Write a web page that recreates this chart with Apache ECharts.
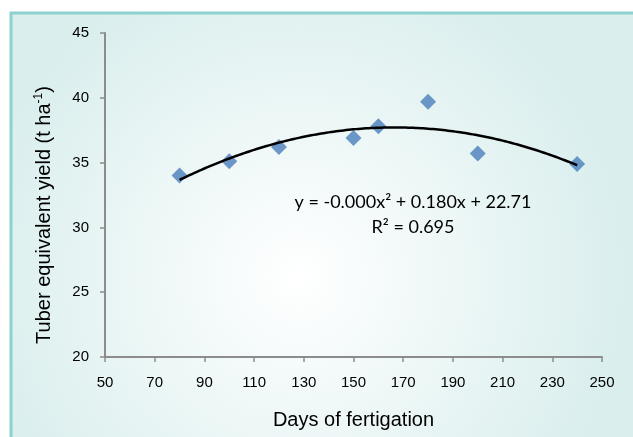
<!DOCTYPE html>
<html>
<head>
<meta charset="utf-8">
<script src="https://cdn.jsdelivr.net/npm/echarts@6/dist/echarts.min.js"></script>
<style>
html,body{margin:0;padding:0;background:#fff;}
#chart{width:633px;height:437px;}
</style>
</head>
<body>
<div id="chart"></div>
<script>
// Data
var days = [80, 100, 120, 150, 160, 180, 200, 240];
var yieldValues = [34.0, 35.1, 36.2, 36.9, 37.8, 39.7, 35.7, 34.9];
var xTicks = [50, 70, 90, 110, 130, 150, 170, 190, 210, 230, 250];
var yTicks = [20, 25, 30, 35, 40, 45];
var equationText = 'y = -0.000x\u00B2 + 0.180x + 22.71';
var r2Text = 'R\u00B2 = 0.695';

// Least-squares quadratic trend fitted to the data (like a spreadsheet trendline)
function polyFit2(xs, ys) {
  var n = xs.length, s = [0,0,0,0,0], t = [0,0,0];
  for (var i = 0; i < n; i++) {
    var p = 1;
    for (var k = 0; k < 5; k++) { s[k] += p; if (k < 3) t[k] += p * ys[i]; p *= xs[i]; }
  }
  var A = [[s[0], s[1], s[2], t[0]], [s[1], s[2], s[3], t[1]], [s[2], s[3], s[4], t[2]]];
  for (var c = 0; c < 3; c++) {
    for (var r = c + 1; r < 3; r++) {
      var f = A[r][c] / A[c][c];
      for (var j = c; j < 4; j++) A[r][j] -= f * A[c][j];
    }
  }
  var b = [0,0,0];
  for (var r2 = 2; r2 >= 0; r2--) {
    var sum = A[r2][3];
    for (var j2 = r2 + 1; j2 < 3; j2++) sum -= A[r2][j2] * b[j2];
    b[r2] = sum / A[r2][r2];
  }
  return b;
}
var coef = polyFit2(days, yieldValues);
var xMin = Math.min.apply(null, days), xMax = Math.max.apply(null, days);
var trend = [];
for (var x = xMin; x <= xMax; x += 1) {
  trend.push([x, coef[0] + coef[1] * x + coef[2] * x * x]);
}

var chart = echarts.init(document.getElementById('chart'));
var axisGray = '#8c8c8c';
chart.setOption({
  backgroundColor: '#ffffff',
  animation: false,
  graphic: [{
    type: 'rect',
    z: -100,
    shape: { x: 11, y: 13, width: 640, height: 440 },
    style: {
      fill: {
        type: 'radial', x: 0.45, y: 0.6, r: 0.75,
        colorStops: [{ offset: 0, color: '#ffffff' }, { offset: 1, color: '#d9eeed' }]
      },
      stroke: '#8dd1d1', lineWidth: 3
    }
  }, {
    type: 'text', z: 10,
    style: { x: 413, y: 202, text: equationText, font: '18px Lato', fill: '#000', align: 'center', verticalAlign: 'middle' }
  }, {
    type: 'text', z: 10,
    style: { x: 413, y: 227, text: r2Text, font: '18px Lato', fill: '#000', align: 'center', verticalAlign: 'middle' }
  }],
  grid: { left: 105, right: 31, top: 33, bottom: 80, containLabel: false },
  xAxis: {
    type: 'value', min: xTicks[0], max: xTicks[xTicks.length - 1], interval: xTicks[1] - xTicks[0],
    name: 'Days of fertigation', nameLocation: 'middle', nameGap: 53,
    nameTextStyle: { fontFamily: 'Liberation Sans', fontSize: 20, color: '#000' },
    axisLine: { lineStyle: { color: axisGray, width: 2 } },
    axisTick: { show: true, length: 5, lineStyle: { color: axisGray, width: 1.5 } },
    axisLabel: { fontFamily: 'Liberation Sans', fontSize: 15, color: '#000', margin: 18 },
    splitLine: { show: false }
  },
  yAxis: {
    type: 'value', min: yTicks[0], max: yTicks[yTicks.length - 1], interval: yTicks[1] - yTicks[0],
    name: '{a|Tuber equivalent yield (t ha}{s|-1}{a|)}', nameLocation: 'middle', nameGap: 49, nameRotate: 90,
    nameTextStyle: {
      padding: [0, 40, 0, 0],
      rich: {
        a: { fontFamily: 'Liberation Sans', fontSize: 20, color: '#000', lineHeight: 23 },
        s: { fontFamily: 'Liberation Sans', fontSize: 12, color: '#000', lineHeight: 12, verticalAlign: 'top' }
      }
    },
    axisLine: { show: true, lineStyle: { color: axisGray, width: 2 } },
    axisTick: { show: true, length: 5, lineStyle: { color: axisGray, width: 1.5 } },
    axisLabel: { fontFamily: 'Liberation Sans', fontSize: 15, color: '#000', margin: 16 },
    splitLine: { show: false }
  },
  series: [{
    type: 'scatter',
    data: days.map(function (d, i) { return [d, yieldValues[i]]; }),
    symbol: 'diamond', symbolSize: [16, 16],
    itemStyle: { color: '#4a7ebb' },
    z: 3
  }, {
    type: 'line',
    data: trend,
    showSymbol: false, symbol: 'none',
    lineStyle: { color: '#000', width: 2.5 },
    z: 4
  }]
});
</script>
</body>
</html>
